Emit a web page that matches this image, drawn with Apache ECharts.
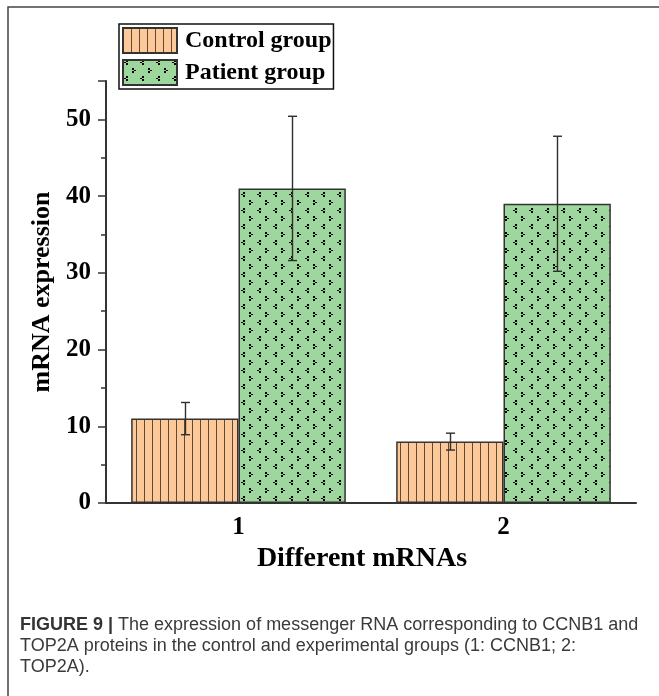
<!DOCTYPE html>
<html>
<head>
<meta charset="utf-8">
<script src="https://cdn.jsdelivr.net/npm/echarts@6/dist/echarts.min.js"></script>
<style>
  html, body { margin: 0; padding: 0; background: #fff; }
  #chart { width: 659px; height: 696px; }
</style>
</head>
<body>
<div id="chart"></div>
<script>
// data
var categories = ['1', '2'];
var controlMean = [11, 8];
var controlErr = [2.1, 1.1];
var patientMean = [41, 39];
var patientErr = [9.4, 8.8];
var yTicks = [0, 10, 20, 30, 40, 50];
var captionLines = [
  ['FIGURE 9 |', ' The expression of messenger RNA corresponding to CCNB1 and'],
  ['', 'TOP2A proteins in the control and experimental groups (1: CCNB1; 2:'],
  ['', 'TOP2A).']
];

var SERIF = 'Liberation Serif';
var GAP = 0.19; // barCategoryGap

// fill patterns like the origin plot
function stripePattern() {
  var c = document.createElement('canvas');
  c.width = 8; c.height = 8;
  var ctx = c.getContext('2d');
  ctx.fillStyle = '#fdc998';
  ctx.fillRect(0, 0, 8, 8);
  ctx.fillStyle = '#5e4a3a';
  ctx.fillRect(0, 0, 1, 8);
  return c;
}
function dotPattern() {
  var c = document.createElement('canvas');
  c.width = 16; c.height = 16;
  var ctx = c.getContext('2d');
  ctx.fillStyle = '#9ed79e';
  ctx.fillRect(0, 0, 16, 16);
  ctx.fillStyle = '#000';
  // "<"
  ctx.fillRect(3, 0, 2, 2);
  ctx.fillRect(1, 2, 2, 1);
  ctx.fillRect(3, 3, 2, 2);
  // ">"
  ctx.fillRect(9, 8, 2, 2);
  ctx.fillRect(11, 10, 2, 1);
  ctx.fillRect(9, 11, 2, 2);
  return c;
}

function errData(mean, err) {
  return mean.map(function (m, i) { return [i, m - err[i], m + err[i]]; });
}

function errorBar(side) {
  return function (params, api) {
    var i = api.value(0);
    var top = api.coord([i, api.value(2)]);
    var bot = api.coord([i, api.value(1)]);
    var band = api.size([1, 0])[0];
    var barW = band * (1 - GAP) / 2;
    var x = Math.round(top[0] + side * barW / 2) + 0.5;
    var cap = 4.5;
    var st = { stroke: '#2e2e2e', lineWidth: 1.4 };
    return {
      type: 'group',
      children: [
        { type: 'line', shape: { x1: x, y1: top[1], x2: x, y2: bot[1] }, style: st },
        { type: 'line', shape: { x1: x - cap, y1: top[1], x2: x + cap, y2: top[1] }, style: st },
        { type: 'line', shape: { x1: x - cap, y1: bot[1], x2: x + cap, y2: bot[1] }, style: st }
      ]
    };
  };
}

var chart = echarts.init(document.getElementById('chart'));

var graphics = [
  { type: 'polyline', shape: { points: [[659, 7], [8, 7], [8, 696]] },
    style: { stroke: '#444', lineWidth: 1.5, fill: null } }
];
captionLines.forEach(function (ln, k) {
  graphics.push({
    type: 'text', x: 20, y: 625 + k * 21,
    style: {
      text: (ln[0] ? '{b|' + ln[0] + '}' : '') + '{n|' + ln[1] + '}',
      verticalAlign: 'middle',
      rich: {
        b: { fontFamily: 'Liberation Sans', fontSize: 18, fontWeight: 'bold', fill: '#333' },
        n: { fontFamily: 'Liberation Sans', fontSize: 18, fill: '#3a3a3a' }
      }
    }
  });
});

var option = {
  animation: false,
  grid: { left: 106, right: 23, top: 81, bottom: 193, containLabel: false, outerBoundsMode: 'none' },
  legend: {
    data: ['Control group', 'Patient group'],
    orient: 'vertical',
    left: 119, top: 24,
    itemWidth: 54, itemHeight: 25, itemGap: 5,
    padding: [3, 2, 3, 3],
    borderColor: '#111', borderWidth: 1.5,
    icon: 'rect',
    selectedMode: false,
    textStyle: { fontFamily: SERIF, fontWeight: 'bold', fontSize: 24, color: '#000', padding: [0, 0, 0, 3] }
  },
  xAxis: {
    type: 'category',
    data: categories,
    name: 'Different mRNAs',
    nameLocation: 'middle',
    nameGap: 42,
    nameTextStyle: { fontFamily: SERIF, fontWeight: 'bold', fontSize: 28, color: '#000', padding: [0, 18, 0, 0] },
    axisLine: { lineStyle: { color: '#333', width: 2 } },
    axisTick: { alignWithLabel: true, length: 8, lineStyle: { color: '#333', width: 1.5 } },
    axisLabel: { margin: 12, fontFamily: SERIF, fontWeight: 'bold', fontSize: 25, color: '#000' }
  },
  yAxis: [
    {
      type: 'value', min: 0, max: 55, interval: 10,
      name: 'mRNA expression',
      nameLocation: 'middle',
      nameGap: 46,
      nameTextStyle: { fontFamily: SERIF, fontWeight: 'bold', fontSize: 26, color: '#000' },
      axisLine: { show: true, lineStyle: { color: '#333', width: 2 } },
      axisTick: { show: true, length: 8, lineStyle: { color: '#333', width: 1.5 } },
      axisLabel: {
        margin: 15, fontFamily: SERIF, fontWeight: 'bold', fontSize: 25, color: '#000',
        formatter: function (v) { return yTicks.indexOf(v) >= 0 ? String(v) : ''; }
      },
      splitLine: { show: false }
    },
    {
      type: 'value', min: 0, max: 55, interval: 5, position: 'left',
      axisLine: { show: false },
      axisTick: { show: true, length: 5, lineStyle: { color: '#333', width: 1.5 } },
      axisLabel: { show: false },
      splitLine: { show: false }
    }
  ],
  series: [
    {
      name: 'Control group', type: 'bar', data: controlMean,
      barGap: '0%', barCategoryGap: (GAP * 100) + '%',
      itemStyle: { color: { image: stripePattern(), repeat: 'repeat' }, borderColor: '#333', borderWidth: 1.5 }
    },
    {
      name: 'Patient group', type: 'bar', data: patientMean,
      barGap: '0%', barCategoryGap: (GAP * 100) + '%',
      itemStyle: { color: { image: dotPattern(), repeat: 'repeat' }, borderColor: '#333', borderWidth: 1.5 }
    },
    {
      type: 'custom', renderItem: errorBar(-1), data: errData(controlMean, controlErr),
      encode: { x: 0, y: [1, 2] }, z: 5, silent: true
    },
    {
      type: 'custom', renderItem: errorBar(1), data: errData(patientMean, patientErr),
      encode: { x: 0, y: [1, 2] }, z: 5, silent: true
    }
  ],
  graphic: graphics
};

chart.setOption(option);
</script>
</body>
</html>
